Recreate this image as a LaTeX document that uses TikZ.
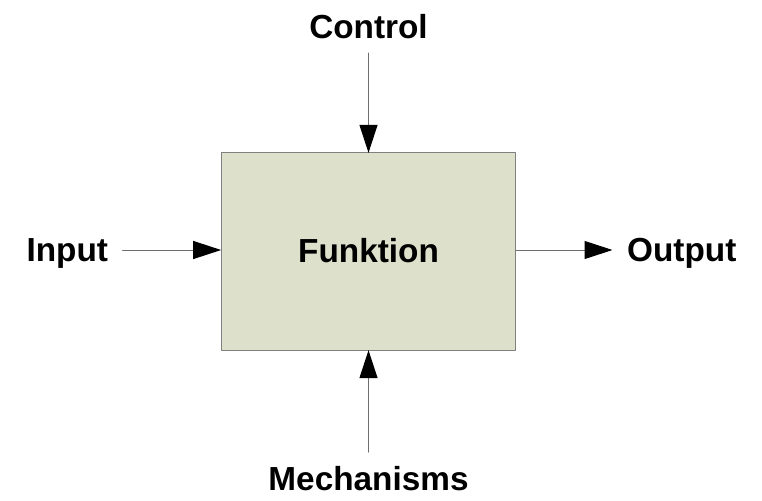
\documentclass[tikz,border=0pt]{standalone}
\usepackage{fontspec}
\setmainfont{Liberation Sans}
\definecolor{boxfill}{RGB}{221,224,202}
\definecolor{boxline}{RGB}{128,128,128}
\definecolor{arrline}{RGB}{110,110,110}
\usetikzlibrary{arrows.meta}
\tikzset{lbl/.style={font=\bfseries\fontsize{25}{30}\selectfont, inner sep=0pt, outer sep=11pt, text depth=0pt},
  flow/.style={draw=arrline, line width=0.75pt, -{Triangle[length=21pt,width=13.5pt,color=black]}}}

\begin{document}
\begin{tikzpicture}[line cap=round,line join=round,x=0.75pt,y=-0.75pt]
	\useasboundingbox (0,0) rectangle (762,500);
	\node[draw=boxline, fill=boxfill, line width=0.75pt, minimum width=221pt, minimum height=148pt, inner sep=0pt, outer sep=0pt] (fkt) at (368.5,251.5) {};
	\node[lbl] (fname) at (368.5,250) {Funktion};
    \node[lbl, anchor=east] (inp) at (122.7,250) {Input};
    \node[lbl, anchor=west] (outp) at (612.5,250) {Output};
    \node[lbl, anchor=south] (ctrl) at (368.5,53) {Control};
    \node[lbl, anchor=north] (mech) at (368.5,452) {Mechanisms};
	\draw[flow] (inp.east) -- (fkt.west |- inp.east);
	\draw[flow] (fkt.east |- outp.west) -- (outp.west);
	\draw[flow] (ctrl.south) -- (fkt.north);
	\draw[flow] (mech.north) -- (fkt.south);
	\end{tikzpicture}
\end{document}
